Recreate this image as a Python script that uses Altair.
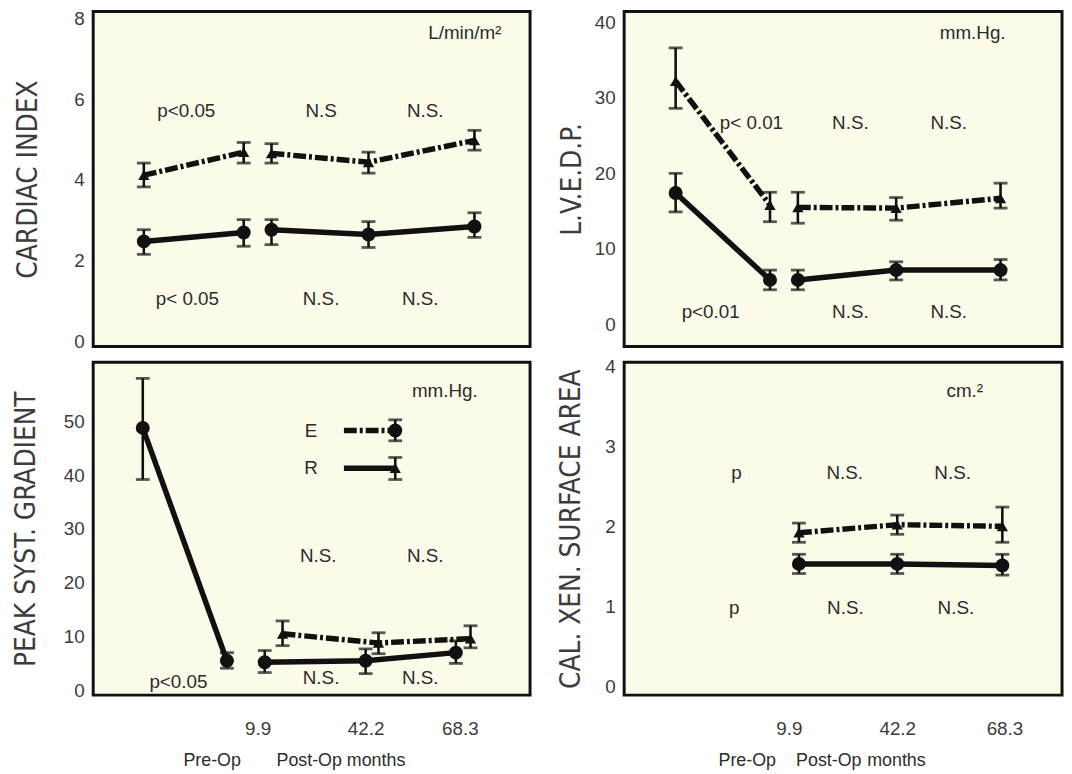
import altair as alt
import pandas as pd

SANS = "Liberation Sans, Arial, sans-serif"
NARROW = "Liberation Sans Narrow, DejaVu Sans Condensed, Liberation Sans, sans-serif"
INK = "#111111"
TXT = "#2b2b2b"
LAB = "#3c3c3c"

# common x scale (months-like positions)
X_DOMAIN = [-36.2, 86.3]

# ---------------- Cardiac index (top-left) ----------------
ci_x = [-22.0, 6.0, 13.8, 41.0, 70.7]
ci_seg = ["pre", "pre", "fu", "fu", "fu"]
ci_E = [4.12, 4.69, 4.66, 4.44, 4.98]
ci_E_lo = [3.83, 4.42, 4.42, 4.17, 4.74]
ci_E_hi = [4.42, 4.93, 4.90, 4.69, 5.23]
ci_R = [2.48, 2.70, 2.77, 2.65, 2.85]
ci_R_lo = [2.16, 2.36, 2.40, 2.33, 2.58]
ci_R_hi = [2.77, 3.02, 3.02, 2.97, 3.19]
ci_ann_text = ["p<0.05", "N.S", "N.S.", "p< 0.05", "N.S.", "N.S.", "L/min/m²"]
ci_ann_x = [-10.1, 27.7, 56.9, -9.8, 27.7, 55.5, 68.0]
ci_ann_y = [5.72, 5.72, 5.72, 1.06, 1.06, 1.06, 7.63]

# ---------------- LVEDP (top-right) ----------------
lv_x = [-21.8, 4.6, 12.4, 39.9, 69.1]
lv_seg = ["pre", "pre", "fu", "fu", "fu"]
lv_E = [32.2, 15.8, 15.5, 15.4, 16.7]
lv_E_lo = [28.6, 13.6, 13.4, 13.8, 15.4]
lv_E_hi = [36.6, 17.5, 17.5, 16.8, 18.7]
lv_R = [17.4, 5.9, 5.9, 7.2, 7.2]
lv_R_lo = [14.9, 4.6, 4.6, 5.9, 5.9]
lv_R_hi = [20.0, 7.2, 7.2, 8.3, 8.6]
lv_ann_text = ["mm.Hg.", "p< 0.01", "N.S.", "N.S.", "p<0.01", "N.S.", "N.S."]
lv_ann_x = [61.3, -0.6, 27.1, 54.6, -12.0, 27.1, 54.6]
lv_ann_y = [38.6, 26.7, 26.7, 26.7, 1.7, 1.7, 1.7]

# ---------------- Peak systolic gradient (bottom-left) ----------------
pg_R_x = [-22.3, 1.3, 11.9, 40.2, 65.5]
pg_R_seg = ["pre", "pre", "fu", "fu", "fu"]
pg_R = [48.8, 5.5, 5.2, 5.5, 7.0]
pg_R_lo = [39.2, 4.1, 3.3, 3.1, 5.0]
pg_R_hi = [58.0, 7.0, 7.4, 7.7, 9.2]
pg_E_x = [16.9, 43.8, 69.6]
pg_E_seg = ["fu", "fu", "fu"]
pg_E = [10.5, 8.8, 9.6]
pg_E_lo = [8.3, 6.8, 7.9]
pg_E_hi = [12.9, 10.7, 12.0]
pg_ann_text = ["mm.Hg.", "N.S.", "N.S.", "p<0.05", "N.S.", "N.S.", "E", "R"]
pg_ann_x = [62.4, 26.9, 56.9, -12.3, 27.7, 55.5, 24.9, 24.9]
pg_ann_y = [55.6, 24.9, 24.9, 1.5, 2.2, 2.2, 48.3, 41.3]
# legend sample (as drawn in the figure)
leg_series = ["E", "R"]
leg_x0 = [34.1, 34.1]
leg_x1 = [48.5, 48.5]
leg_y = [48.3, 41.3]
leg_lo = [46.4, 39.2]
leg_hi = [50.3, 43.3]

# ---------------- Calcified xenograft surface area (bottom-right) ----------------
sa_x = [12.7, 40.2, 69.6]
sa_seg = ["fu", "fu", "fu"]
sa_E = [1.92, 2.02, 2.00]
sa_E_lo = [1.80, 1.90, 1.80]
sa_E_hi = [2.04, 2.14, 2.24]
sa_R = [1.53, 1.53, 1.51]
sa_R_lo = [1.41, 1.41, 1.39]
sa_R_hi = [1.65, 1.65, 1.65]
sa_ann_text = ["cm.²", "p", "N.S.", "N.S.", "p", "N.S.", "N.S."]
sa_ann_x = [59.1, -4.8, 25.5, 55.7, -5.4, 25.7, 56.6]
sa_ann_y = [3.69, 2.67, 2.67, 2.67, 0.98, 0.98, 0.98]

# x-axis tick labels of the bottom panels
pg_tick_pos = [9.9, 40.2, 66.6]
sa_tick_pos = [9.9, 40.2, 70.2]
tick_labels = ["9.9", "42.2", "68.3"]
pg_xlab_text = ["Pre-Op", "Post-Op months"]
pg_xlab_x = [-10.9, 15.2]
pg_xlab_y = [-13.2, -13.2]
sa_xlab_text = ["Pre-Op", "Post-Op", "months"]
sa_xlab_x = [-9.8, 11.9, 31.8]
sa_xlab_y = [-0.94, -0.94, -0.94]


def rows(series, xs, ys, los, his, segs, role="data"):
    return [dict(series=series, x=a, y=b, lo=c, hi=d, seg=e, role=role)
            for a, b, c, d, e in zip(xs, ys, los, his, segs)]


def label_expr(pos, labels):
    expr = "''"
    for p, l in reversed(list(zip(pos, labels))):
        expr = f"abs(datum.value - {p}) < 0.01 ? '{l}' : ({expr})"
    return expr


def panel(pts, lines, ann, ydom, yticks, ytitle, w, h, xticks=None, xlab=None, title_pad=18):
    xscale = alt.Scale(domain=X_DOMAIN, nice=False, zero=False)
    yscale = alt.Scale(domain=ydom, nice=False, zero=False)
    if xticks is None:
        xaxis = None
    else:
        xaxis = alt.Axis(values=xticks, labelExpr=label_expr(xticks, tick_labels), title=None,
                         labelFont=SANS, labelFontSize=19, labelColor=LAB, labelPadding=25,
                         labelAlign="center", labelOverlap=False,
                         grid=False, domain=False, ticks=False, tickSize=0, labelFlush=False)
    yaxis = alt.Axis(values=yticks, title=ytitle, labelFont=SANS, labelFontSize=19, labelColor=LAB,
                     labelPadding=9, titleFont=NARROW, titleFontSize=28, titleFontWeight="normal",
                     titleColor=LAB, titlePadding=title_pad, grid=False, domain=False, ticks=False,
                     tickSize=0, labelFlush=False)

    def X(f):
        return alt.X(f, scale=xscale, axis=xaxis)

    def Y(f):
        return alt.Y(f, scale=yscale, axis=yaxis)

    pdf = pd.DataFrame(pts)
    ldf = pd.DataFrame(lines)
    base_p = alt.Chart(pdf)
    base_l = alt.Chart(ldf)

    line_E = base_l.transform_filter("datum.series == 'E'").mark_line(
        color=INK, strokeWidth=5.5, strokeDash=[13, 3, 3, 3], strokeCap="butt"
    ).encode(x=X("x:Q"), y=Y("y:Q"), detail="seg:N", order="x:Q")
    line_R = base_l.transform_filter("datum.series == 'R'").mark_line(
        color=INK, strokeWidth=5.5, strokeCap="butt"
    ).encode(x=X("x:Q"), y=Y("y:Q"), detail="seg:N", order="x:Q")
    err = base_p.mark_rule(color=INK, strokeWidth=2.6).encode(
        x=X("x:Q"), y=Y("lo:Q"), y2="hi:Q")
    caps = base_p.transform_fold(["lo", "hi"], as_=["end", "yv"]).mark_tick(
        color=INK, orient="horizontal", size=14, thickness=2.8
    ).encode(x=X("x:Q"), y=Y("yv:Q"))
    circles = base_p.transform_filter(
        "(datum.series == 'R' && datum.role == 'data') || (datum.series == 'E' && datum.role == 'legend')"
    ).mark_point(shape="circle", filled=True, size=200, color=INK, opacity=1).encode(
        x=X("x:Q"), y=Y("y:Q"))
    tris = base_p.transform_filter(
        "(datum.series == 'E' && datum.role == 'data') || (datum.series == 'R' && datum.role == 'legend')"
    ).mark_point(shape="triangle-up", filled=True, size=130, color=INK, opacity=1).encode(
        x=X("x:Q"), y=Y("y:Q"))
    texts = alt.Chart(pd.DataFrame(ann)).mark_text(
        font=SANS, fontSize=19, color=TXT, align="center", baseline="middle"
    ).encode(x=X("x:Q"), y=Y("y:Q"), text="t:N")
    layers = [line_E, line_R, err, caps, circles, tris, texts]
    if xlab is not None:
        layers.append(alt.Chart(pd.DataFrame(xlab)).mark_text(
            font=SANS, fontSize=18, color=TXT, align="left", baseline="middle"
        ).encode(x=X("x:Q"), y=Y("y:Q"), text="t:N"))
    return alt.layer(*layers).properties(width=w, height=h)


def ann_rows(ts, xs, ys):
    return [dict(t=a, x=b, y=c) for a, b, c in zip(ts, xs, ys)]


# --- build panels ---
ci_pts = rows("E", ci_x, ci_E, ci_E_lo, ci_E_hi, ci_seg) + rows("R", ci_x, ci_R, ci_R_lo, ci_R_hi, ci_seg)
tl = panel(ci_pts, ci_pts, ann_rows(ci_ann_text, ci_ann_x, ci_ann_y),
           [-0.12, 8.17], [0, 2, 4, 6, 8], "CARDIAC INDEX", 441, 338, title_pad=32)

lv_pts = rows("E", lv_x, lv_E, lv_E_lo, lv_E_hi, lv_seg) + rows("R", lv_x, lv_R, lv_R_lo, lv_R_hi, lv_seg)
tr = panel(lv_pts, lv_pts, ann_rows(lv_ann_text, lv_ann_x, lv_ann_y),
           [-2.9, 41.4], [0, 10, 20, 30, 40], "L.V.E.D.P.", 442, 338, title_pad=8)

pg_pts = (rows("R", pg_R_x, pg_R, pg_R_lo, pg_R_hi, pg_R_seg)
          + rows("E", pg_E_x, pg_E, pg_E_lo, pg_E_hi, pg_E_seg))
pg_leg_pts = [dict(series=s, x=x1, y=y, lo=lo, hi=hi, seg="leg" + s, role="legend")
              for s, x1, y, lo, hi in zip(leg_series, leg_x1, leg_y, leg_lo, leg_hi)]
pg_leg_lines = []
for s, x0, x1, y in zip(leg_series, leg_x0, leg_x1, leg_y):
    pg_leg_lines += [dict(series=s, x=x0, y=y, seg="leg" + s, role="legend"),
                     dict(series=s, x=x1, y=y, seg="leg" + s, role="legend")]
bl = panel(pg_pts + pg_leg_pts, pg_pts + pg_leg_lines, ann_rows(pg_ann_text, pg_ann_x, pg_ann_y),
           [-0.9, 61.0], [0, 10, 20, 30, 40, 50], "PEAK SYST. GRADIENT", 441, 336,
           xticks=pg_tick_pos, xlab=ann_rows(pg_xlab_text, pg_xlab_x, pg_xlab_y), title_pad=23)

sa_pts = rows("E", sa_x, sa_E, sa_E_lo, sa_E_hi, sa_seg) + rows("R", sa_x, sa_R, sa_R_lo, sa_R_hi, sa_seg)
br = panel(sa_pts, sa_pts, ann_rows(sa_ann_text, sa_ann_x, sa_ann_y),
           [-0.11, 4.05], [0, 1, 2, 3, 4], "CAL. XEN. SURFACE AREA", 442, 336,
           xticks=sa_tick_pos, xlab=ann_rows(sa_xlab_text, sa_xlab_x, sa_xlab_y), title_pad=20)

chart = alt.concat(tl, tr, bl, br, columns=2, spacing={"row": 16, "column": 95}, bounds="flush").properties(
    padding={"left": 3, "top": -4, "right": 0, "bottom": 0},
    background="#ffffff",
).configure_view(
    stroke=INK, strokeWidth=3, fill="#fcfbea"
)

chart.save("out.html", embed_options={"renderer": "svg", "actions": False})
